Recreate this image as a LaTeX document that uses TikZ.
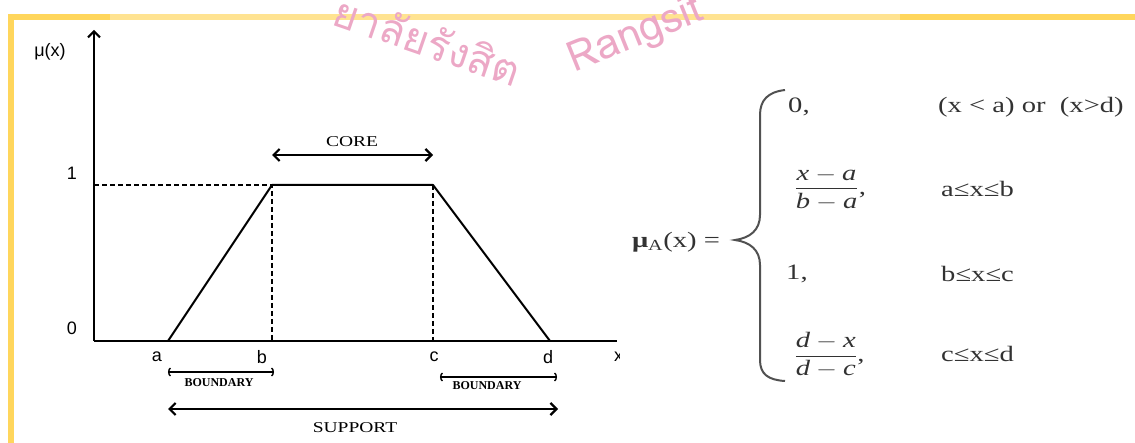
\documentclass[tikz,border=0pt]{standalone}
\usepackage{fontspec}
\usepackage{amsmath}
\usepackage{graphicx}
\setmainfont{Liberation Serif}
\newfontfamily\arialfont{Liberation Sans}
\newfontfamily\thaifont[Script=Thai]{Loma}
\usetikzlibrary{arrows.meta}
\definecolor{frameyellow}{RGB}{255,214,92}
\definecolor{framelight}{RGB}{255,227,145}
\definecolor{stamppink}{RGB}{236,168,198}
\definecolor{inkgray}{RGB}{50,50,50}
\newcommand{\widen}[1]{\scalebox{1.3}[1]{#1}}
\newcommand{\fsize}[1]{\fontsize{#1}{#1}\selectfont}
\begin{document}
\begin{tikzpicture}[x=1pt, y=-1pt,
  axis/.style={line width=2pt, -{Straight Barb[length=6pt,width=12pt]}},
  memb/.style={line width=2pt, line join=round},
  guide/.style={line width=1.6pt, dash pattern=on 5pt off 3pt},
  span/.style={line width=2.2pt, {Straight Barb[length=6pt,width=12pt]}-{Straight Barb[length=6pt,width=12pt]}},
  bspan/.style={line width=1.4pt, {Arc Barb[length=2.5pt,width=9pt]}-{Arc Barb[length=2.5pt,width=9pt]}},
  ax/.style={font=\arialfont\fsize{18}, inner sep=0pt},
  tag/.style={font=\fsize{15}, inner sep=0pt},
  btag/.style={font=\bfseries\fsize{12}, inner sep=0pt},
  eq/.style={font=\fsize{22}, text=inkgray, inner sep=0pt, anchor=west},
  stamp/.style={text=stamppink, font=\thaifont\fsize{42}, inner sep=0pt}]
  \useasboundingbox (0,0) rectangle (1135,443);
  \fill[frameyellow] (8,14) rectangle (1135,20);
  \fill[framelight] (110,14) rectangle (900,20);
  \fill[frameyellow] (8,14) rectangle (14,443);
  \node[stamp, rotate=-19] (wmth) at (428,40) {ยาลัยรังสิต};
  \node[stamp, rotate=22] (wmen) at (636,36) {Rangsit};

  \coordinate (o) at (94,341);
  \coordinate (ytop) at (94,30);
  \coordinate (xend) at (617,341);
  \coordinate (a) at (168,341);
  \coordinate (b) at (272,185);
  \coordinate (c) at (433,185);
  \coordinate (d) at (550,341);
  \coordinate (one) at (94,185);
  \draw[axis] (o) -- (ytop);
  \draw[line width=2pt] (o) -- (xend);
  \draw[memb] (a) -- (b) -- (c) -- (d);
  \draw[guide] (one) -- (b) -- (b |- o);
  \draw[guide] (c) -- (c |- o);

  \node[ax] (lmu) at (50,52) {μ(x)};
  \node[ax] (lone) at (72,173) {1};
  \node[ax] (lzero) at (72,328) {0};
  \node[ax] (la) at (157,357) {a};
  \node[ax] (lb) at (262,357) {b};
  \node[ax] (lc) at (434,357) {c};
  \node[ax] (ld) at (548,357) {d};
  \begin{scope}
    \clip (0,0) rectangle (619,443);
    \node[ax, anchor=west] (lx) at (614,357) {x};
  \end{scope}

  \coordinate (corel) at (272,155);
  \coordinate (corer) at (433,155);
  \coordinate (bndal) at (168,372);
  \coordinate (bndar) at (274,372);
  \coordinate (bndbl) at (440,377);
  \coordinate (bndbr) at (557,377);
  \coordinate (supl) at (168,409);
  \coordinate (supr) at (558,409);
  \draw[span] (corel) -- (corer);
  \draw[bspan] (bndal) -- (bndar);
  \draw[bspan] (bndbl) -- (bndbr);
  \draw[span] (supl) -- (supr);
  \node[tag] (core) at (352,142) {\widen{CORE}};
  \node[btag] (bnda) at (219,383) {BOUNDARY};
  \node[btag] (bndb) at (487,386) {BOUNDARY};
  \node[tag] (supp) at (355,428) {\widen{SUPPORT}};

  \node[eq, anchor=center] (muA) at (676,242) {\widen{\textbf{μ}\textsubscript{A}(x) =}};
  \draw[line width=2pt, inkgray!85] (785,90) .. controls (768,92) and (760,100) .. (760,115) -- (760,215)
    .. controls (760,230) and (750,238) .. (735,240) .. controls (750,242) and (760,250) .. (760,265)
    -- (760,360) .. controls (760,374) and (768,380) .. (785,381);
  \node[eq] (zero) at (788,107) {\widen{0,}};
  \node[eq] (fracab) at (794,189) {\widen{$\dfrac{\textit{x}-\textit{a}}{\textit{b}-\textit{a}}$,}};
  \node[eq] (unit) at (786,274) {\widen{1,}};
  \node[eq] (fracdc) at (794,355) {\widen{$\dfrac{\textit{d}-\textit{x}}{\textit{d}-\textit{c}}$,}};
  \node[eq] (outer) at (938,107) {\widen{(x < a) or\ \ (x>d)}};
  \node[eq] (rise) at (941,189) {\widen{a≤x≤b}};
  \node[eq] (flat) at (941,274) {\widen{b≤x≤c}};
  \node[eq] (fall) at (941,354) {\widen{c≤x≤d}};
\end{tikzpicture}
\end{document}
